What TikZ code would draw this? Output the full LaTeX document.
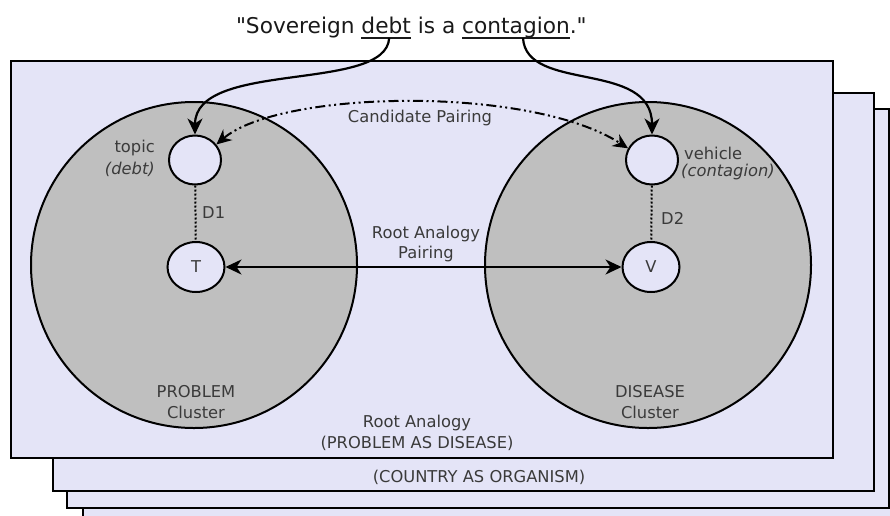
\documentclass[tikz,border=0pt]{standalone}
\usepackage{fontspec}
\setmainfont{DejaVu Sans}
\newfontfamily\plainfam{DejaVu Sans}[Ligatures=ResetAll]
\usetikzlibrary{arrows.meta,shapes.geometric}
\definecolor{lav}{RGB}{228,228,247}
\definecolor{clgray}{RGB}{191,191,191}
\definecolor{txt}{RGB}{58,58,58}
\definecolor{qtxt}{RGB}{25,25,25}
\newcommand\lblfont{\fontsize{16.3pt}{20.5pt}\selectfont}
\newcommand\quotefont{\plainfam\fontsize{21.7pt}{26pt}\selectfont}
\begin{document}
\begin{tikzpicture}[x=1pt,y=-1pt,
  sheet/.style={draw=black,line width=2.5pt,fill=lav},
  clusterdisk/.style={circle,draw=black,line width=2pt,fill=clgray,minimum size=326pt,inner sep=0pt},
  conc/.style={ellipse,draw=black,line width=2pt,fill=lav,minimum width=52pt,minimum height=49pt,inner sep=0pt},
  rootnode/.style={ellipse,draw=black,line width=2pt,fill=lav,minimum width=57pt,minimum height=50pt,inner sep=0pt,font=\lblfont,text=txt},
  lbl/.style={font=\lblfont,text=txt,inner sep=0pt,align=center},
  quotetxt/.style={font=\quotefont,text=qtxt,inner sep=0pt,outer sep=0pt},
  uline/.style={line width=1.8pt,draw=qtxt},
  arr/.style={line width=2.2pt,-{Stealth[length=16pt,width=15pt,inset=5pt]}},
  biarr/.style={line width=2.2pt,{Stealth[length=16pt,width=15pt,inset=5pt]}-{Stealth[length=16pt,width=15pt,inset=5pt]}},
  candarr/.style={line width=2pt,dash pattern=on 10pt off 3.5pt on 2pt off 3.5pt on 2pt off 3.5pt,
    {Stealth[length=15pt,width=14pt,inset=5pt]}-{Stealth[length=15pt,width=14pt,inset=5pt]}},
  dotline/.style={line width=2pt,dash pattern=on 2pt off 2pt}
]
\useasboundingbox (0,0) rectangle (890,515);
\begin{scope}
  \clip (0,0) rectangle (890,515);
  \draw[sheet] (83,125) rectangle (905,530);
  \draw[sheet] (67,109) rectangle (889,508);
  \draw[sheet] (53,93) rectangle (874,491);
  \draw[sheet] (11,61) rectangle (833,458);
\end{scope}

% clusters
\node[clusterdisk] (prob) at (194,265) {};
\node[clusterdisk] (dis) at (648,265) {};

% concept nodes
\node[conc] (topic) at (195,160) {};
\node[conc] (vehicle) at (652,160) {};
\node[rootnode] (T) at (196,267) {T};
\node[rootnode] (V) at (651,267) {V};

% labels
\node[lbl,anchor=east] (topiclbl) at (155,148) {topic};
\node[lbl,anchor=east,font=\lblfont\itshape] (debtlbl) at (155,169) {(debt)};
\node[lbl,anchor=west] (vehlbl) at (684,153) {vehicle};
\node[lbl,anchor=west,font=\lblfont\itshape] (conlbl) at (681,172) {(contagion)};
\node[lbl,anchor=west] (d1) at (202,213) {D1};
\node[lbl,anchor=west] (d2) at (661,218) {D2};
\node[lbl] (rap) at (426,244) {Root Analogy\\Pairing};
\node[lbl] (cp) at (420,118) {Candidate Pairing};
\node[lbl] (pc) at (196,402) {PROBLEM\\Cluster};
\node[lbl] (dc) at (650,402) {DISEASE\\Cluster};
\node[lbl] (ra) at (417,433) {Root Analogy\\(PROBLEM AS DISEASE)};
\node[lbl] (co) at (479,477) {(COUNTRY AS ORGANISM)};

% quote
\node[quotetxt,anchor=base west] (q1) at (236,33) {"Sovereign};
\node[quotetxt,anchor=base west] (w1) at ([xshift=6.9pt]q1.base east) {debt};
\node[quotetxt,anchor=base west] (q2) at ([xshift=6.9pt]w1.base east) {is a};
\node[quotetxt,anchor=base west] (w2) at ([xshift=6.9pt]q2.base east) {contagion};
\node[quotetxt,anchor=base west] (q3) at (w2.base east) {."};
\draw[uline] ([yshift=-5pt]w1.base west) -- ([yshift=-5pt]w1.base east);
\draw[uline] ([yshift=-5pt]w2.base west) -- ([yshift=-5pt]w2.base east);
\coordinate (u1) at ([xshift=3pt,yshift=-5pt]w1.base);
\coordinate (u2) at ([xshift=7pt,yshift=-5pt]w2.base);

% connectors
\draw[arr] (u1) .. controls +(-3,55) and +(0,-75) .. (topic.north);
\draw[arr] (u2) .. controls +(3,55) and +(0,-75) .. (vehicle.north);
\draw[dotline] (topic) -- (T);
\draw[dotline] (vehicle) -- (V);
\draw[biarr] (T) -- (V);
\draw[candarr] (topic.36) .. controls (280,90) and (530,85) .. (vehicle.154);
\end{tikzpicture}
\end{document}
